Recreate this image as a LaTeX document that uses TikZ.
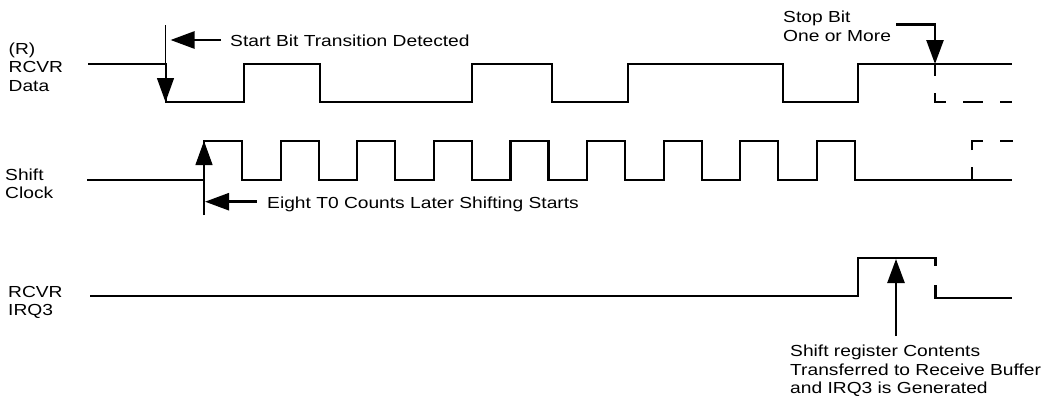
\documentclass[tikz,border=0pt]{standalone}
\usepackage{fontspec}
\setmainfont{Liberation Sans}[FakeStretch=1.2]
\usetikzlibrary{arrows.meta}
\begin{document}
\begin{tikzpicture}[x=1pt,y=-1pt,
  sig/.style={line width=2.2pt, line join=miter},
  hair/.style={line width=1.2pt},
  shaft/.style={line width=2.6pt},
  tri/.style={-{Triangle[length=24pt,width=17pt]}},
  lbl/.style={anchor=base west, inner sep=0pt, font=\fontsize{16}{18.5}\selectfont},
  dashsig/.style={sig, dash pattern=on 20pt off 17pt}
]
\useasboundingbox (0,0) rectangle (1053,397);

% ---- labels ----
\node[lbl] (dataL) at (8.5,54) {\begin{tabular}[t]{@{}l@{}}(R)\\RCVR\\Data\end{tabular}};
\node[lbl] (clkL) at (5,180) {\begin{tabular}[t]{@{}l@{}}Shift\\Clock\end{tabular}};
\node[lbl] (irqL) at (8,297) {\begin{tabular}[t]{@{}l@{}}RCVR\\IRQ3\end{tabular}};
\node[lbl] (startTxt) at (230,46.7) {Start Bit Transition Detected};
\node[lbl] (eightTxt) at (267,208) {Eight T0 Counts Later Shifting Starts};
\node[lbl] (stopTxt) at (783,22.8) {\begin{tabular}[t]{@{}l@{}}Stop Bit\\One or More\end{tabular}};
\node[lbl] (shiftTxt) at (790,356.5) {\begin{tabular}[t]{@{}l@{}}Shift register Contents\\Transferred to Receive Buffer\\and IRQ3 is Generated\end{tabular}};

% ---- RCVR data waveform ----
\draw[sig] (88,64) -- (166,64) -- (166,102) -- (244,102) -- (244,64) -- (320,64)
  -- (320,102) -- (472,102) -- (472,64) -- (552,64) -- (552,102) -- (628,102)
  -- (628,64) -- (783,64) -- (783,102) -- (858,102) -- (858,64) -- (1012,64);
\draw[dashsig, dash phase=8pt] (935,64) -- (935,102) -- (1012,102);

% ---- shift clock waveform ----
\draw[sig] (87,180) foreach \k in {0,...,8} {
   -- ({204+76.6*\k},180) -- ({204+76.6*\k},141) -- ({242+76.6*\k},141) -- ({242+76.6*\k},180) }
   -- (1012,180);
\draw[dashsig, dash phase=7pt] (972,180) -- (972,141) -- (1013,141);

% ---- IRQ waveform ----
\draw[sig] (90,296) -- (858,296) -- (858,258) -- (935.5,258) -- (935.5,266);
\draw[sig] (935.5,285) -- (935.5,298) -- (1012,298);

% ---- annotation arrows ----
\coordinate (sbTop) at (165.5,25);
\coordinate (sbTip) at (165.5,102);
\coordinate (sbTail) at (221,40);
\coordinate (sbHead) at (170.5,40);
\draw[hair, tri] (sbTop) -- (sbTip);
\draw[shaft, tri] (sbTail) -- (sbHead);

\coordinate (ckBot) at (204,215);
\coordinate (ckTip) at (204,141);
\coordinate (ekTail) at (256.7,201.7);
\coordinate (ekHead) at (205,201.7);
\draw[hair, tri] (ckBot) -- (ckTip);
\draw[shaft, tri] (ekTail) -- (ekHead);

\coordinate (stStart) at (896,24.5);
\coordinate (stCorner) at (935,24.5);
\coordinate (stTip) at (935,64);
\draw[shaft, tri] (stStart) -- (stCorner) -- (stTip);

\coordinate (irqBot) at (896,336);
\coordinate (irqTip) at (896,259);
\draw[shaft, tri] (irqBot) -- (irqTip);
\end{tikzpicture}
\end{document}
